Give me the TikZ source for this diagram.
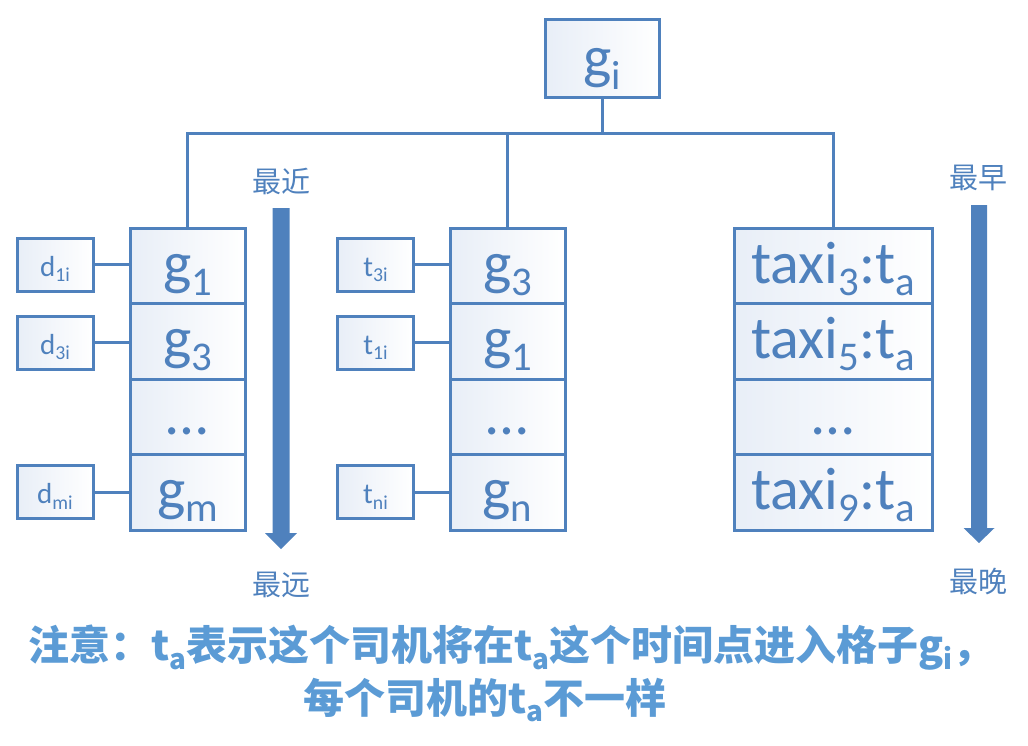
\documentclass[tikz,border=0pt]{standalone}
\usepackage{graphicx}
\usepackage{fontspec}
\setmainfont{Carlito}
\newfontfamily\cjk{Noto Sans CJK SC}
\definecolor{bl}{HTML}{4F81BD}
\definecolor{tb}{HTML}{5B9BD5}
\definecolor{cf}{HTML}{E8EEF7}
\newcommand\sbx[1]{\raisebox{-0.2em}{\scalebox{0.68}{#1}}}
\begin{document}
\begin{tikzpicture}[x=1pt,y=-1pt,
  box/.style={draw=bl, line width=3pt, left color=cf, right color=white, inner sep=0pt, text=bl},
  cell/.style={box, minimum height=75.5pt, font=\fontsize{60}{60}\selectfont, text height=41pt, text depth=6pt},
  side/.style={box, minimum width=76pt, minimum height=53pt, font=\fontsize{29}{29}\selectfont, text height=26pt, text depth=3pt},
  conn/.style={draw=bl, line width=3pt},
  lab/.style={text=bl, font=\cjk\fontsize{29}{29}\selectfont, inner sep=0pt},
  note/.style={text=tb, font=\cjk\bfseries\fontsize{41}{41}\selectfont, inner sep=0pt}]
\useasboundingbox (0,0) rectangle (1028,745);
% top node
\node[box, minimum width=114pt, minimum height=78pt, font=\fontsize{60}{60}\selectfont, text height=42pt, text depth=4pt] (top) at (602,58) {g\sbx{i}};
% column 1
\node[cell, minimum width=115pt] (a1) at (187.5,265.75) {g\sbx{1}};
\node[cell, minimum width=115pt] (a2) at (187.5,341.25) {g\sbx{3}};
\node[cell, minimum width=115pt] (a3) at (187.5,416.75) {…};
\node[cell, minimum width=115pt] (a4) at (187.5,492.25) {g\sbx{m}};
% column 2
\node[cell, minimum width=115pt] (b1) at (507.5,265.75) {g\sbx{3}};
\node[cell, minimum width=115pt] (b2) at (507.5,341.25) {g\sbx{1}};
\node[cell, minimum width=115pt] (b3) at (507.5,416.75) {…};
\node[cell, minimum width=115pt] (b4) at (507.5,492.25) {g\sbx{n}};
% column 3
\node[cell, minimum width=198pt] (c1) at (833,265.75) {taxi\sbx{3}:t\sbx{a}};
\node[cell, minimum width=198pt] (c2) at (833,341.25) {taxi\sbx{5}:t\sbx{a}};
\node[cell, minimum width=198pt] (c3) at (833,416.75) {…};
\node[cell, minimum width=198pt] (c4) at (833,492.25) {taxi\sbx{9}:t\sbx{a}};
% side boxes
\node[side] (d1) at (55,264.5) {d\sbx{1i}};
\node[side] (d3) at (55,342.5) {d\sbx{3i}};
\node[side] (dm) at (55,492) {d\sbx{mi}};
\node[side] (t3) at (375.5,264.5) {t\sbx{3i}};
\node[side] (t1) at (375.5,342.5) {t\sbx{1i}};
\node[side] (tn) at (375.5,492) {t\sbx{ni}};
% tree connectors
\coordinate (bar) at (602,133);
\draw[conn] (top.south) -- (bar);
\draw[conn] (a1.north) |- (bar) -| (c1.north);
\draw[conn] (b1.north) -- (b1.north |- bar);
% side connectors
\draw[conn] (d1.east) -- (d1.east -| a1.west);
\draw[conn] (d3.east) -- (d3.east -| a2.west);
\draw[conn] (dm.east) -- (dm.east -| a4.west);
\draw[conn] (t3.east) -- (t3.east -| b1.west);
\draw[conn] (t1.east) -- (t1.east -| b2.west);
\draw[conn] (tn.east) -- (tn.east -| b4.west);
% big arrows
\fill[bl] (272.5,208) -- (289.5,208) -- (289.5,533) -- (297,533) -- (281,549) -- (265,533) -- (272.5,533) -- cycle;
\fill[bl] (971,205) -- (987,205) -- (987,528) -- (994.5,528) -- (979,543) -- (963.5,528) -- (971,528) -- cycle;
\node[lab] (near) at (281,181) {最近};
\node[lab] (far) at (281,585) {最远};
\node[lab] (early) at (978,178) {最早};
\node[lab] (late) at (978,582) {最晚};
% note
\node[note] (n1) at (511,648) {注意：t\sbx{a}表示这个司机将在t\sbx{a}这个时间点进入格子g\sbx{i}，};
\node[note] (n2) at (485,700) {每个司机的t\sbx{a}不一样};
\end{tikzpicture}
\end{document}
